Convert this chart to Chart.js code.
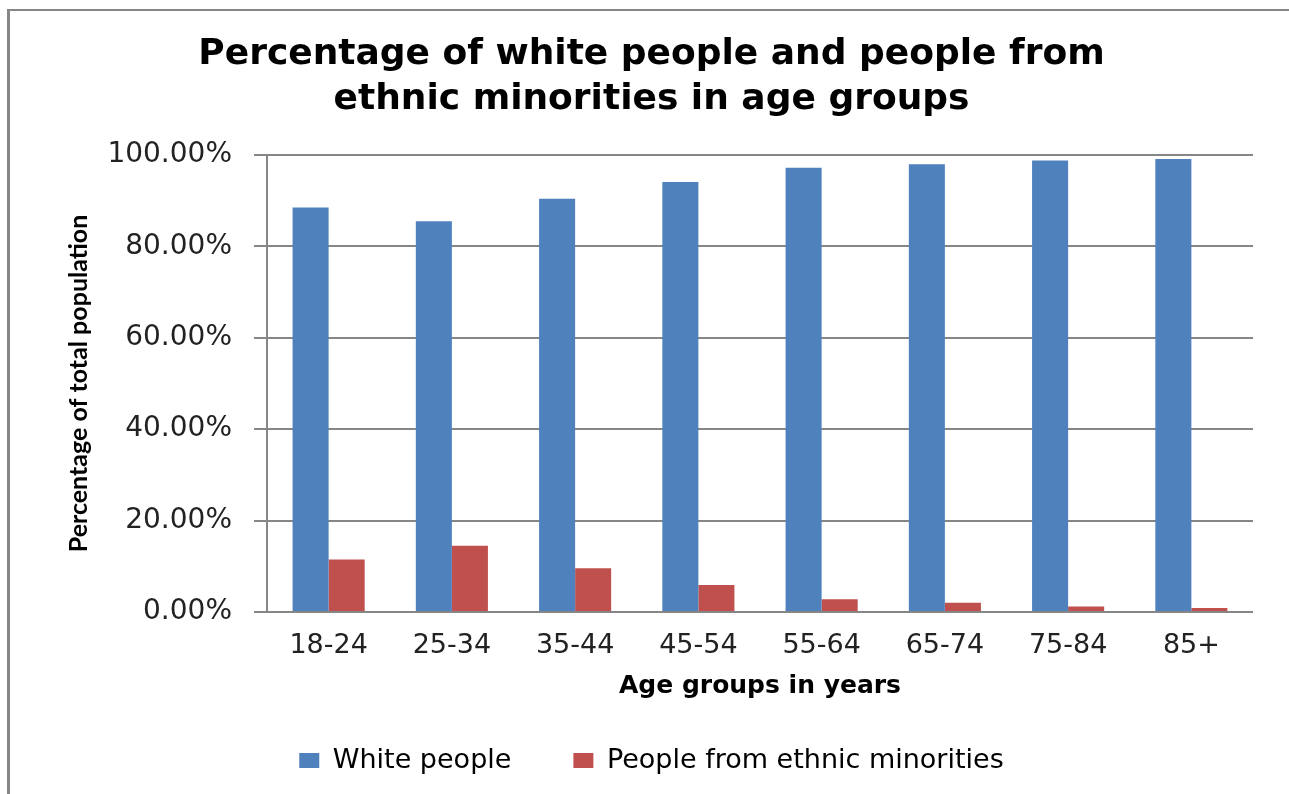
<!DOCTYPE html>
<html>
<head>
<meta charset="utf-8">
<title>Percentage of white people and people from ethnic minorities in age groups</title>
<script src="https://cdn.jsdelivr.net/npm/chart.js@4/dist/chart.umd.min.js"></script>
<style>
  html, body { margin: 0; padding: 0; background: #fff; overflow: hidden; }
  #wrap { position: relative; width: 1289px; height: 794px; overflow: hidden; }
  #frame { position: absolute; left: 7px; top: 9px; width: 1400px; height: 900px;
           border-top: 2px solid #868686; border-left: 3px solid #868686; }
  #chart { position: absolute; left: 0; top: 0; }
</style>
</head>
<body>
<div id="wrap">
  <div id="frame"></div>
  <canvas id="chart" width="1289" height="794"></canvas>
</div>
<script>
// --- data (percent of total population) ---
const ageGroups   = ['18-24', '25-34', '35-44', '45-54', '55-64', '65-74', '75-84', '85+'];
const whitePct    = [88.5, 85.5, 90.4, 94.1, 97.2, 98.0, 98.8, 99.1];
const minorityPct = [11.5, 14.5, 9.6, 5.9, 2.8, 2.0, 1.2, 0.9];
const yTicks      = [0, 20, 40, 60, 80, 100];

const GRID = '#868686';
const BLUE = '#4F81BD';
const RED  = '#C0504D';

const ctx = document.getElementById('chart').getContext('2d');
new Chart(ctx, {
  type: 'bar',
  data: {
    labels: ageGroups,
    datasets: [
      { label: 'White people', data: whitePct, backgroundColor: BLUE, borderWidth: 0 },
      { label: 'People from ethnic minorities', data: minorityPct, backgroundColor: RED, borderWidth: 0 },
    ],
  },
  options: {
    responsive: false,
    animation: false,
    layout: { padding: { left: 50, right: 36, top: 0, bottom: 10 } },
    datasets: { bar: { categoryPercentage: 0.585, barPercentage: 1 } },
    plugins: {
      tooltip: { enabled: false },
      title: {
        display: true,
        text: ['Percentage of white people and people from', 'ethnic minorities in age groups'],
        color: '#000',
        font: { family: 'DejaVu Sans', weight: 'bold', size: 36, lineHeight: 1.25 },
        padding: { top: 32.5, bottom: 32.5 },
      },
      legend: {
        position: 'bottom',
        labels: {
          color: '#000',
          font: { family: 'DejaVu Sans', size: 27 },
          boxWidth: 20, boxHeight: 15,
          padding: 62,
        },
      },
    },
    scales: {
      x: {
        grid: { display: false, drawTicks: false },
        border: { display: false },
        ticks: { color: '#222', font: { family: 'DejaVu Sans', size: 27 }, padding: 18, maxRotation: 0 },
        title: {
          display: true, text: 'Age groups in years', color: '#000',
          font: { family: 'DejaVu Sans', weight: 'bold', size: 25 },
          padding: { top: 0, bottom: -16 },
        },
        afterFit: s => { s.height = 73; },
      },
      y: {
        min: 0, max: 100,
        afterBuildTicks: s => { s.ticks = yTicks.map(v => ({ value: v })); },
        grid: { color: GRID, lineWidth: 2, drawTicks: true, tickLength: 13 },
        border: { display: true, color: GRID, width: 2 },
        ticks: {
          color: '#222', padding: 22,
          font: { family: 'DejaVu Sans', size: 28 },
          callback: v => v.toFixed(2) + '%',
        },
        title: {
          display: true, text: 'Percentage of total population', color: '#000',
          font: { family: 'Lato', weight: 'bold', size: 25 },
          padding: { top: 14, bottom: 0 },
        },
        afterFit: s => { s.width = 217; },
      },
    },
  },
});
</script>
</body>
</html>
